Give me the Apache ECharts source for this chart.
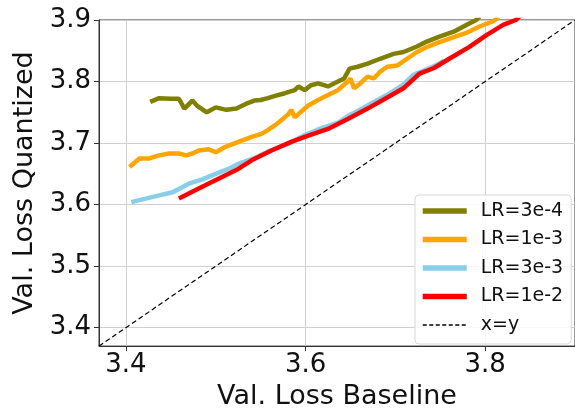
<!DOCTYPE html>
<html lang="en">
<head>
    <meta charset="UTF-8">
    <title>val loss</title>
</head>
<body style="margin:0">
<div id="main" style="width: 575px;height:415px;"></div>
</body>
<script src="https://cdn.jsdelivr.net/npm/echarts@6/dist/echarts.min.js"></script>
<script>

// baseline loss, quantized loss for each learning rate
const lr3e4 = [
    [3.427, 3.767], [3.437, 3.773], [3.450, 3.772], [3.459, 3.772], [3.465, 3.756],
    [3.474, 3.769], [3.479, 3.761], [3.490, 3.750], [3.500, 3.758], [3.512, 3.754],
    [3.523, 3.756], [3.534, 3.764], [3.543, 3.769], [3.550, 3.770], [3.558, 3.773],
    [3.567, 3.777], [3.577, 3.781], [3.588, 3.786], [3.592, 3.792], [3.599, 3.786],
    [3.606, 3.794], [3.614, 3.797], [3.625, 3.792], [3.636, 3.800], [3.643, 3.805],
    [3.649, 3.821], [3.658, 3.824], [3.669, 3.829], [3.683, 3.837], [3.698, 3.845],
    [3.709, 3.848], [3.724, 3.857], [3.735, 3.865], [3.749, 3.873], [3.765, 3.881],
    [3.779, 3.892], [3.790, 3.900], [3.800, 3.915]
]
const lr1e3 = [
    [3.404, 3.661], [3.415, 3.675], [3.426, 3.675], [3.437, 3.680], [3.448, 3.683],
    [3.459, 3.683], [3.467, 3.680], [3.474, 3.683], [3.481, 3.688], [3.492, 3.690],
    [3.500, 3.685], [3.511, 3.694], [3.518, 3.698], [3.529, 3.704], [3.540, 3.710],
    [3.551, 3.715], [3.558, 3.721], [3.566, 3.729], [3.573, 3.737], [3.581, 3.747],
    [3.584, 3.754], [3.588, 3.742], [3.592, 3.747], [3.603, 3.761], [3.614, 3.770],
    [3.625, 3.778], [3.636, 3.786], [3.647, 3.800], [3.650, 3.805], [3.654, 3.789],
    [3.661, 3.797], [3.669, 3.808], [3.676, 3.805], [3.683, 3.816], [3.691, 3.824],
    [3.702, 3.826], [3.713, 3.837], [3.724, 3.848], [3.735, 3.856], [3.749, 3.864],
    [3.765, 3.872], [3.779, 3.879], [3.793, 3.889], [3.809, 3.898], [3.815, 3.905]
]
const lr3e3 = [
    [3.406, 3.604], [3.423, 3.610], [3.437, 3.615], [3.452, 3.620], [3.470, 3.634],
    [3.485, 3.641], [3.500, 3.650], [3.514, 3.658], [3.525, 3.666], [3.542, 3.675],
    [3.558, 3.686], [3.581, 3.699], [3.599, 3.713], [3.617, 3.724], [3.636, 3.733],
    [3.647, 3.744], [3.658, 3.752], [3.669, 3.761], [3.680, 3.770], [3.694, 3.781],
    [3.709, 3.795], [3.720, 3.811], [3.735, 3.820], [3.746, 3.827], [3.754, 3.834]
]
const lr1e2 = [
    [3.459, 3.610], [3.481, 3.626], [3.503, 3.642], [3.525, 3.658], [3.540, 3.672],
    [3.562, 3.688], [3.584, 3.702], [3.603, 3.712], [3.625, 3.723], [3.647, 3.739],
    [3.669, 3.756], [3.691, 3.774], [3.709, 3.789], [3.727, 3.813], [3.743, 3.822],
    [3.760, 3.837], [3.782, 3.856], [3.801, 3.875], [3.820, 3.892], [3.834, 3.900],
    [3.845, 3.915]
]
const identity = [[3.37, 3.37], [3.9, 3.9]]

const xTicks = [3.4, 3.6, 3.8]
const yTicks = [3.4, 3.5, 3.6, 3.7, 3.8, 3.9]

const names = ['LR=3e-4', 'LR=1e-3', 'LR=3e-3', 'LR=1e-2', 'x=y']
const colors = ['#808000', '#ffa500', '#87ceeb', '#ff0000', '#000000']

const FONT = 'DejaVu Sans'

let chartDom = document.getElementById('main');
let myChart = echarts.init(chartDom);

function curve(name, data, color) {
    return {
        name: name,
        type: 'line',
        data: data,
        symbol: 'none',
        clip: true,
        lineStyle: {color: color, width: 4.5},
        itemStyle: {color: color}
    }
}

let series = [
    curve(names[0], lr3e4, colors[0]),
    curve(names[1], lr1e3, colors[1]),
    curve(names[2], lr3e3, colors[2]),
    curve(names[3], lr1e2, colors[3]),
    {
        name: names[4],
        type: 'line',
        data: identity,
        symbol: 'none',
        lineStyle: {color: colors[4], width: 1.2, type: [5, 3]},
        itemStyle: {color: colors[4]}
    }
]

// legend samples: thick for the runs, thin dashed for x=y
let legendData = names.map((n, i) => ({
    name: n,
    lineStyle: i < 4 ? {width: 5.5} : {width: 1.3, type: [4, 2.5]}
}))

let option = {
    animation: false,
    textStyle: {fontFamily: FONT},
    grid: {
        left: 99, right: -6, top: 20, bottom: 61,
        show: true, borderColor: '#333', borderWidth: 1
    },
    legend: {
        orient: 'vertical',
        left: 415, top: 195,
        data: legendData,
        itemWidth: 44, itemHeight: 14, itemGap: 8.5,
        padding: [6, 8, 9, 5],
        itemStyle: {opacity: 0},
        backgroundColor: 'rgba(255,255,255,0.85)',
        borderColor: '#d8d8d8', borderWidth: 1, borderRadius: 4,
        textStyle: {fontFamily: FONT, fontSize: 19, lineHeight: 20, color: '#111', padding: [0, 0, 0, 9]}
    },
    xAxis: {
        type: 'value', min: 3.37, max: 3.9,
        name: 'Val. Loss Baseline', nameLocation: 'middle', nameGap: 34,
        nameTextStyle: {fontFamily: FONT, fontSize: 27, color: '#111'},
        axisLine: {show: true, lineStyle: {color: '#333', width: 1}},
        axisTick: {show: true, length: 5, customValues: xTicks, lineStyle: {color: '#333'}},
        axisLabel: {customValues: xTicks, fontFamily: FONT, fontSize: 26, color: '#111', margin: 6},
        splitLine: {show: true, customValues: xTicks, lineStyle: {color: '#d0d0d0', width: 1}}
    },
    yAxis: {
        type: 'value', min: 3.37, max: 3.9,
        name: 'Val. Loss Quantized', nameLocation: 'middle', nameGap: 57,
        nameTextStyle: {fontFamily: FONT, fontSize: 27, color: '#111'},
        axisLine: {show: true, lineStyle: {color: '#333', width: 1}},
        axisTick: {show: true, length: 5, customValues: yTicks, lineStyle: {color: '#333'}},
        axisLabel: {customValues: yTicks, fontFamily: FONT, fontSize: 26, color: '#111', margin: 8},
        splitLine: {show: true, customValues: yTicks, lineStyle: {color: '#d0d0d0', width: 1}}
    },
    series: series
}

option && myChart.setOption(option);

</script>
</html>
